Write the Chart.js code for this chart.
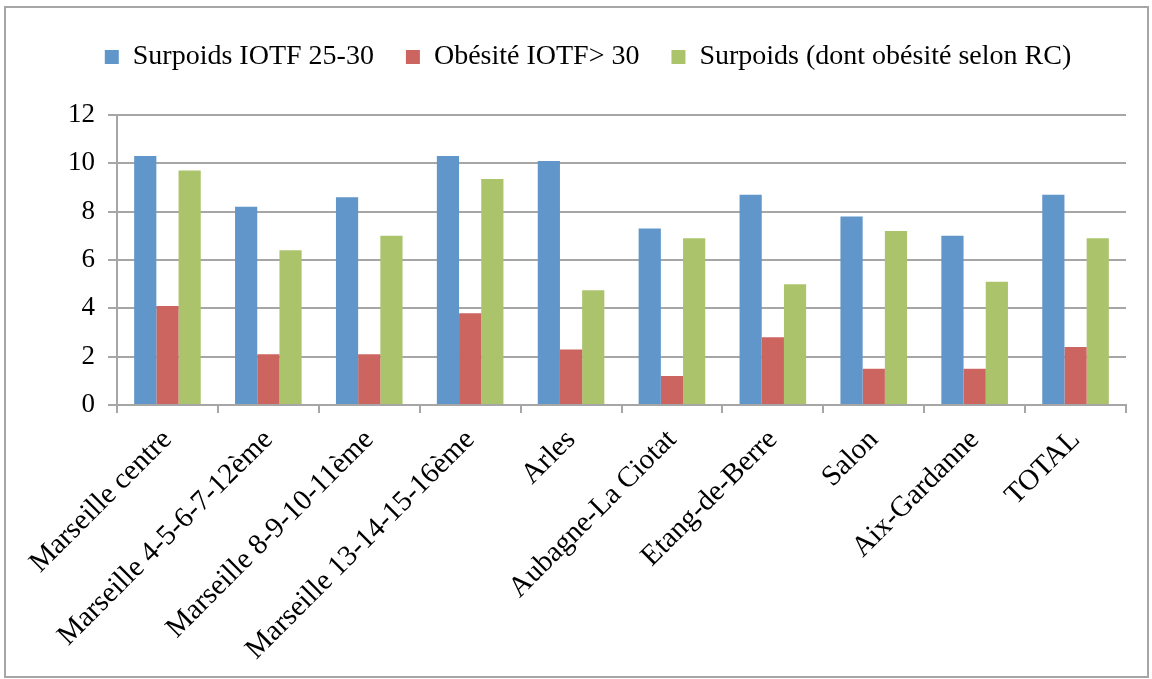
<!DOCTYPE html>
<html>
<head>
<meta charset="utf-8">
<script src="https://cdn.jsdelivr.net/npm/chart.js@4/dist/chart.umd.min.js"></script>
<style>
    html, body { margin: 0; padding: 0; background: #fff; }
    #wrap { position: relative; width: 1152px; height: 679px; }
    #frame { position: absolute; left: 4px; top: 6px; width: 1141px; height: 668px; border: 2px solid #a6a6a6; pointer-events: none; }
</style>
</head>
<body>
<div id="wrap">
    <canvas id="obesityChart" width="1152" height="679"></canvas>
    <div id="frame"></div>
</div>
<script>
// Chart data
const categories = [
    'Marseille centre',
    'Marseille 4-5-6-7-12ème',
    'Marseille 8-9-10-11ème',
    'Marseille 13-14-15-16ème',
    'Arles',
    'Aubagne-La Ciotat',
    'Etang-de-Berre',
    'Salon',
    'Aix-Gardanne',
    'TOTAL'
];
const seriesNames = ['Surpoids IOTF 25-30', 'Obésité IOTF> 30', 'Surpoids (dont obésité selon RC)'];
const surpoidsIotf = [10.3, 8.2, 8.6, 10.3, 10.1, 7.3, 8.7, 7.8, 7.0, 8.7];
const obesiteIotf = [4.1, 2.1, 2.1, 3.8, 2.3, 1.2, 2.8, 1.5, 1.5, 2.4];
const surpoidsRc = [9.7, 6.4, 7.0, 9.35, 4.75, 6.9, 5.0, 7.2, 5.1, 6.9];
const yTicks = [0, 2, 4, 6, 8, 10, 12];

const colors = ['#6096c9', '#cc6560', '#abc46c'];
const gridColor = '#a6a6a6';
const serif = "'Liberation Serif', 'DejaVu Serif', serif";

// Extra blank space under the legend (Chart.js has no option for it)
const legendGap = {
    id: 'legendGap',
    afterInit(chart) {
        const fit = chart.legend.fit;
        chart.legend.fit = function () {
            fit.call(this);
            this.height += 34;
        };
    }
};

const ctx = document.getElementById('obesityChart').getContext('2d');

new Chart(ctx, {
    type: 'bar',
    data: {
        labels: categories,
        datasets: [surpoidsIotf, obesiteIotf, surpoidsRc].map((d, i) => ({
            label: seriesNames[i],
            data: d,
            backgroundColor: colors[i],
            categoryPercentage: 0.66,
            barPercentage: 1.0
        }))
    },
    options: {
        responsive: false,
        animation: false,
        layout: { padding: { top: 11, left: 50, right: 26, bottom: 0 } },
        plugins: {
            legend: {
                position: 'top',
                labels: {
                    font: { family: serif, size: 28 },
                    color: '#000',
                    boxWidth: 14,
                    boxHeight: 14,
                    padding: 32
                }
            },
            tooltip: { enabled: false }
        },
        scales: {
            x: {
                grid: {
                    drawOnChartArea: false,
                    color: gridColor,
                    lineWidth: 2,
                    tickLength: 8
                },
                border: { color: gridColor, width: 2 },
                ticks: {
                    font: { family: serif, size: 29 },
                    color: '#000',
                    maxRotation: 45,
                    minRotation: 45,
                    padding: 10
                },
                afterFit: scale => { scale.height = 274; }
            },
            y: {
                min: 0,
                max: 12,
                afterBuildTicks: scale => { scale.ticks = yTicks.map(v => ({ value: v })); },
                grid: {
                    color: gridColor,
                    lineWidth: 2,
                    tickLength: 9
                },
                border: { color: gridColor, width: 2 },
                ticks: {
                    font: { family: serif, size: 27 },
                    color: '#000',
                    padding: 13
                },
                afterFit: scale => { scale.width = 67; }
            }
        }
    },
    plugins: [legendGap]
});
</script>
</body>
</html>
